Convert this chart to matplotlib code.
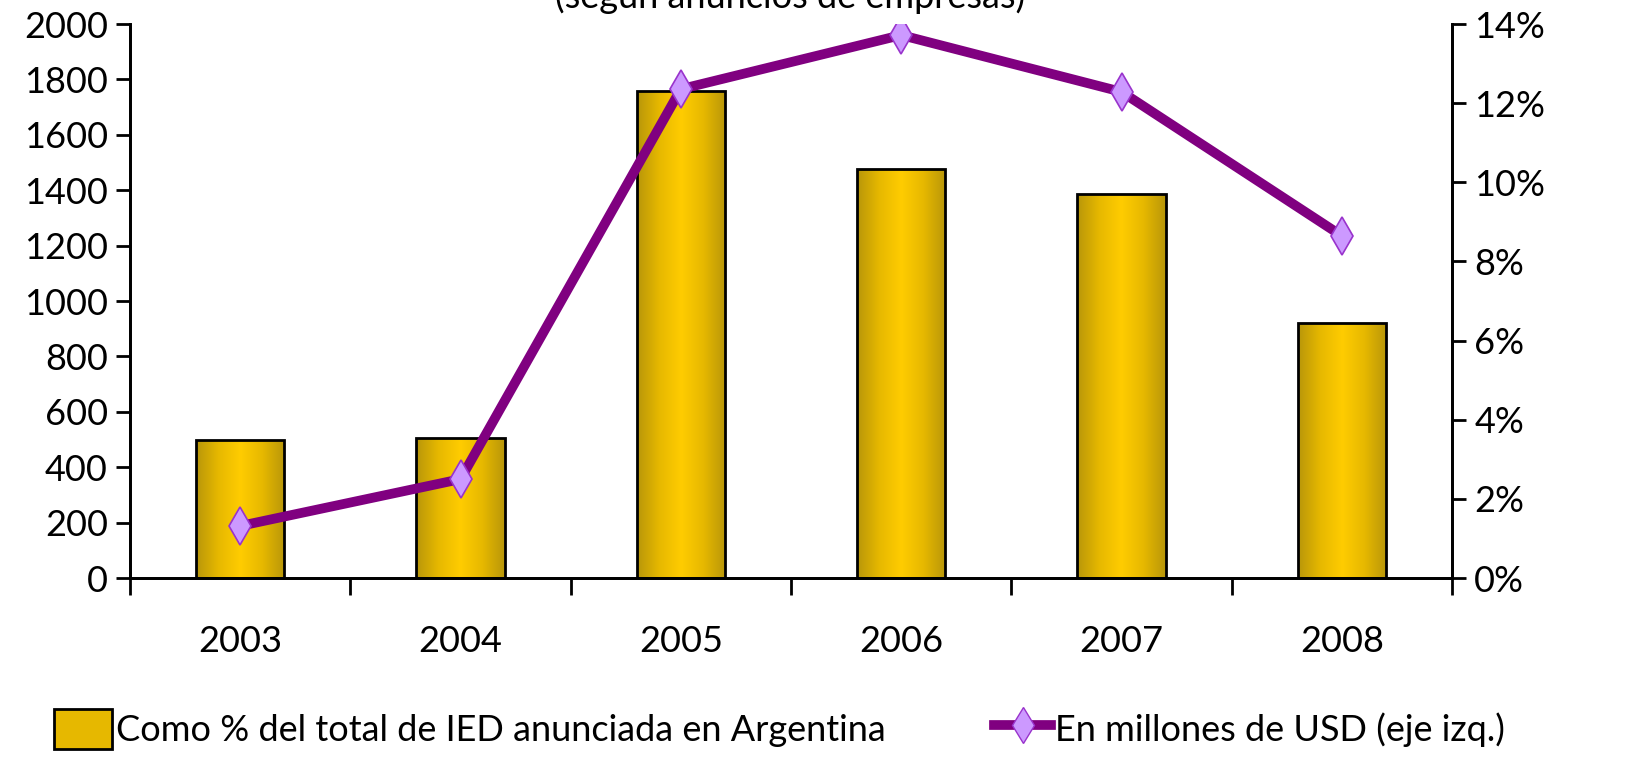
import numpy as np
import matplotlib.pyplot as plt
from matplotlib.lines import Line2D
from matplotlib.patches import Patch
from matplotlib.colors import LinearSegmentedColormap

years = ['2003', '2004', '2005', '2006', '2007', '2008']
# bars: % of total announced FDI (right axis)
pct_ied = [3.5, 3.54, 12.3, 10.33, 9.7, 6.44]
# line: millions of USD (left axis)
mill_usd = [188, 357, 1765, 1960, 1755, 1235]

plt.rcParams['font.family'] = ['Lato', 'DejaVu Sans']
fs = 26

fig = plt.figure(figsize=(16.31, 7.77), dpi=100)
ax = fig.add_axes([0.0797, 0.2561, 0.8106, 0.713])
ax2 = ax.twinx()

x = np.arange(len(years))
w = 0.40

# gradient bars on the right (%) axis
grad = np.abs(np.linspace(-1, 1, 256))
cmap = LinearSegmentedColormap.from_list('gold', ['#FFCC00', '#E6B800', '#B8960A'])
bars = ax2.bar(x, pct_ied, width=w, color='none', edgecolor='black', linewidth=2, zorder=2)
for b in bars:
    im = ax2.imshow(grad[np.newaxis, :], cmap=cmap, aspect='auto',
                    extent=[b.get_x(), b.get_x() + b.get_width(), 0, b.get_height()],
                    zorder=1)
    im.set_clip_path(b)
ax2.set_ylim(0, 14)
ax2.set_yticks(np.arange(0, 15, 2))
ax2.set_yticklabels(['%d%%' % v for v in range(0, 15, 2)])

# line on left axis, drawn above bars
ax.set_zorder(ax2.get_zorder() + 1)
ax.patch.set_visible(False)
ax.plot(x, mill_usd, color='#800080', linewidth=7, marker='d', markersize=19,
        markerfacecolor='#CC99FF', markeredgecolor='#9933CC', markeredgewidth=1.2, zorder=5)
ax.set_ylim(0, 2000)
ax.set_yticks(np.arange(0, 2001, 200))
ax.set_xlim(-0.5, 5.5)
ax2.set_xlim(-0.5, 5.5)

ax.set_xticks(np.arange(-0.5, 5.6, 1))
ax.set_xticklabels([])
ax.set_xticks(x, minor=True)
ax.set_xticklabels(years, minor=True)
ax.tick_params(axis='x', which='major', length=12, width=2, direction='out')
ax.tick_params(axis='x', which='minor', length=0, pad=34, labelsize=fs)
ax.tick_params(axis='y', length=10, width=2, labelsize=fs, pad=6)
ax2.tick_params(axis='y', length=10, width=2, labelsize=fs, pad=6)

for a in (ax, ax2):
    a.spines['top'].set_visible(False)
    for s in ('left', 'right', 'bottom'):
        a.spines[s].set_linewidth(2)

# title sits partly above the top edge, as in the source image
fig.text(790 / 1631, 1 + 3 / 777, '(según anuncios de empresas)', ha='center', va='center',
         fontsize=fs)

handles = [Patch(facecolor='#E6B800', edgecolor='black', linewidth=2),
           Line2D([0], [0], color='#800080', linewidth=7, marker='d', markersize=18,
                  markerfacecolor='#CC99FF', markeredgecolor='#9933CC')]
labels = ['Como % del total de IED anunciada en Argentina', 'En millones de USD (eje izq.)']
fig.legend(handles, labels, loc='center', bbox_to_anchor=(0.478, 0.062), ncol=2,
           frameon=False, fontsize=fs, handlelength=1.6, handleheight=1.3,
           handletextpad=0.1, columnspacing=3.0)

fig.savefig('out.png', dpi=100)
